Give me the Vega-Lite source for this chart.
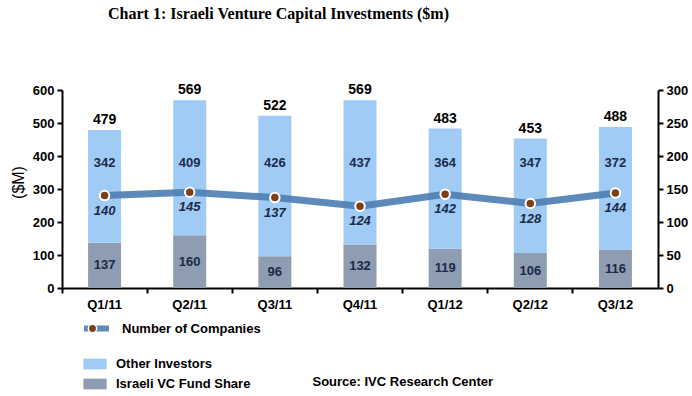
{
  "$schema": "https://vega.github.io/schema/vega-lite/v6.json",
  "width": 596,
  "height": 198,
  "autosize": {"type": "none"},
  "padding": {"left": 62, "top": 90, "right": 34, "bottom": 108},
  "background": "white",
  "config": {
    "view": {"stroke": null},
    "font": "Liberation Sans",
    "axis": {"grid": false, "labelOverlap": false, "domainColor": "black", "domainWidth": 2, "tickColor": "black", "tickWidth": 2, "tickSize": 5, "labelFont": "Liberation Sans", "labelFontWeight": "bold", "labelFontSize": 13, "labelColor": "black"},
    "legend": {"labelFont": "Liberation Sans", "labelFontWeight": "bold", "labelFontSize": 13, "labelColor": "black", "padding": 0, "title": null}
  },
  "title": {"text": "Chart 1: Israeli Venture Capital Investments ($m)", "font": "Liberation Serif", "fontSize": 16, "fontWeight": "bold", "color": "black", "anchor": "start", "frame": "group", "dx": 46, "offset": 61},
  "data": {"values": [
    {"quarter": "Q1/11", "israeli": 137, "other": 342, "total": 479, "companies": 140},
    {"quarter": "Q2/11", "israeli": 160, "other": 409, "total": 569, "companies": 145},
    {"quarter": "Q3/11", "israeli": 96, "other": 426, "total": 522, "companies": 137},
    {"quarter": "Q4/11", "israeli": 132, "other": 437, "total": 569, "companies": 124},
    {"quarter": "Q1/12", "israeli": 119, "other": 364, "total": 483, "companies": 142},
    {"quarter": "Q2/12", "israeli": 106, "other": 347, "total": 453, "companies": 128},
    {"quarter": "Q3/12", "israeli": 116, "other": 372, "total": 488, "companies": 144}
  ]},
  "encoding": {
    "x": {"field": "quarter", "type": "nominal", "sort": null,
      "scale": {"paddingInner": 0, "paddingOuter": 0},
      "axis": {"labelAngle": 0, "bandPosition": 0, "labelPadding": 5, "labelFontSize": 13, "domainWidth": 2,
        "title": "Source: IVC Research Center", "titleFont": "Liberation Sans", "titleFontSize": 13, "titleFontWeight": "bold", "titleColor": "black",
        "titleAnchor": "start", "titleAlign": "left", "titleX": 250, "titleY": 93, "titleBaseline": "middle"}}
  },
  "layer": [
    {
      "resolve": {"scale": {"y": "shared"}},
      "layer": [
        {
          "mark": {"type": "bar", "width": 33},
          "encoding": {
            "y": {"field": "israeli", "type": "quantitative", "scale": {"domain": [0, 600]},
              "axis": {"values": [0, 100, 200, 300, 400, 500, 600], "tickCount": 7, "labelOverlap": false, "labelPadding": 3, "title": "($M)", "titleFont": "Liberation Sans", "titleFontSize": 16, "titleFontWeight": "normal", "titleColor": "black", "titleX": -44, "titleY": 92, "titleAngle": -90, "titleBaseline": "middle"}},
            "y2": {"datum": 0},
            "color": {"datum": "Israeli VC Fund Share", "type": "nominal",
              "scale": {"domain": ["Other Investors", "Israeli VC Fund Share"], "range": ["#9fcbf5", "#8e9db2"]},
              "legend": {"orient": "none", "legendX": 21, "legendY": 262, "symbolType": "M-1,-0.46H1V0.46H-1Z", "symbolSize": 540, "symbolStrokeWidth": 0, "rowPadding": 1, "labelOffset": 9}}
          }
        },
        {
          "mark": {"type": "bar", "width": 33},
          "encoding": {
            "y": {"field": "total", "type": "quantitative", "axis": {"values": [0, 100, 200, 300, 400, 500, 600], "tickCount": 7, "labelOverlap": false}},
            "y2": {"field": "israeli"},
            "color": {"datum": "Other Investors", "type": "nominal"}
          }
        },
        {
          "mark": {"type": "text", "baseline": "bottom", "dy": -3, "fontSize": 14, "fontWeight": "bold", "color": "black"},
          "encoding": {
            "y": {"field": "total", "type": "quantitative", "axis": {"values": [0, 100, 200, 300, 400, 500, 600], "tickCount": 7, "labelOverlap": false}},
            "text": {"field": "total", "type": "quantitative"}
          }
        },
        {
          "mark": {"type": "text", "baseline": "middle", "fontSize": 13, "fontWeight": "bold", "color": "#1b2a48"},
          "encoding": {
            "y": {"datum": 380, "type": "quantitative", "axis": {"values": [0, 100, 200, 300, 400, 500, 600], "tickCount": 7, "labelOverlap": false}},
            "text": {"field": "other", "type": "quantitative"}
          }
        }
      ]
    },
    {
      "mark": {"type": "text", "baseline": "middle", "fontSize": 13, "fontWeight": "bold", "color": "#1b2a48"},
      "encoding": {
        "y": {"field": "israeli", "type": "quantitative", "scale": {"domain": [0, 1200]}, "axis": null},
        "text": {"field": "israeli", "type": "quantitative"}
      }
    },
    {
      "resolve": {"scale": {"y": "shared"}},
      "layer": [
        {
          "mark": {"type": "line", "strokeWidth": 7, "opacity": 0.9},
          "encoding": {
            "y": {"field": "companies", "type": "quantitative", "scale": {"domain": [0, 300]},
              "axis": {"orient": "right", "values": [0, 50, 100, 150, 200, 250, 300], "tickCount": 7, "labelOverlap": false, "labelPadding": 3, "title": null}},
            "stroke": {"datum": "Number of Companies", "type": "nominal", "scale": {"domain": ["Number of Companies"], "range": ["#4d7db2"]},
              "legend": {"orient": "none", "legendX": 19, "legendY": 223, "symbolType": "stroke", "symbolSize": 620, "symbolStrokeWidth": 6, "labelOffset": 10}}
          }
        },
        {
          "mark": {"type": "point", "filled": true, "size": 90, "stroke": "white", "strokeWidth": 2, "opacity": 1},
          "encoding": {
            "y": {"field": "companies", "type": "quantitative", "axis": {"orient": "right", "values": [0, 50, 100, 150, 200, 250, 300], "tickCount": 7, "labelOverlap": false, "title": null}},
            "fill": {"datum": "dot", "type": "nominal", "scale": {"domain": ["dot"], "range": ["#7d4016"]},
              "legend": {"orient": "none", "legendX": 24, "legendY": 232, "symbolType": "circle", "symbolSize": 70, "symbolStrokeColor": "white", "symbolStrokeWidth": 1.5, "labelExpr": "''"}}
          }
        },
        {
          "mark": {"type": "text", "baseline": "middle", "dy": 15, "fontSize": 13, "fontWeight": "bold", "fontStyle": "italic", "color": "#1b2a48"},
          "encoding": {
            "y": {"field": "companies", "type": "quantitative", "axis": {"orient": "right", "values": [0, 50, 100, 150, 200, 250, 300], "tickCount": 7, "labelOverlap": false, "title": null}},
            "text": {"field": "companies", "type": "quantitative"}
          }
        }
      ]
    }
  ],
  "resolve": {"scale": {"y": "independent"}}
}
